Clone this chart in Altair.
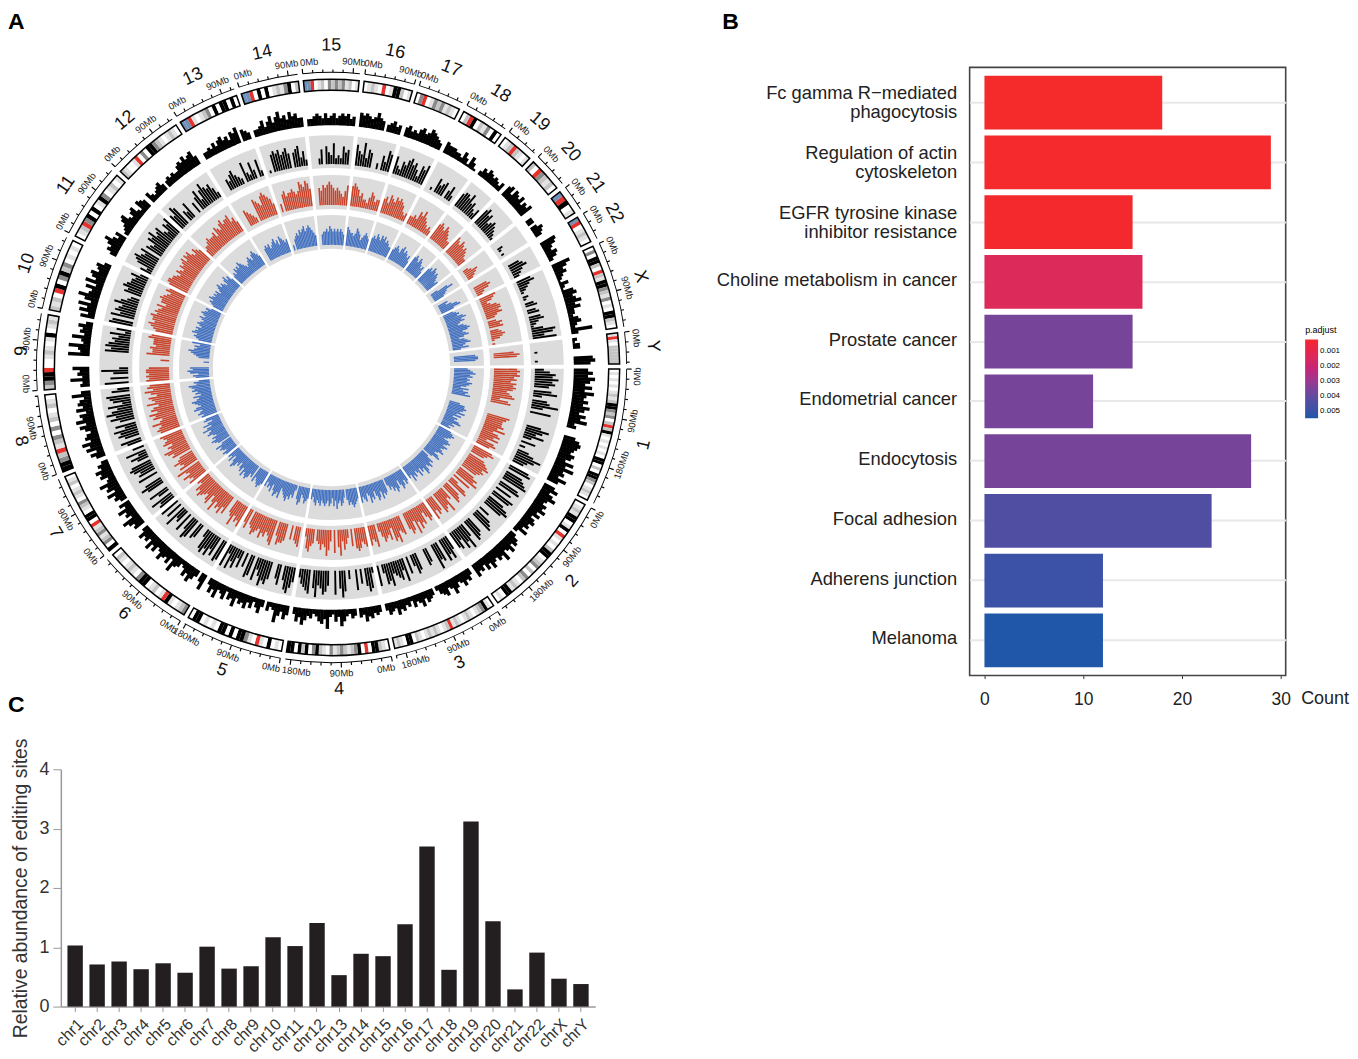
import altair as alt
import pandas as pd

FONT = "Liberation Sans"
chrom_names = ["1","2","3","4","5","6","7","8","9","10","11","12","13","14","15","16","17","18","19","20","21","22","X","Y"]
chrom_len = [249,242,198,190,182,171,159,145,138,134,135,133,114,107,102,90,83,80,59,64,47,51,156,57]

# ideogram bands: one letter per equal cell
band_1 = "wlwlwlwlmlmkkgmgwmrmklwlwlwlwkkwmwkkgmwlmlw"
band_2 = "wlmlkkwlkwrlwlwmkkwlmgwmwgmwlmlkkwlw"
band_3 = "wlkgmlwlmlwlmlrmlwlmlmlwlmwkkwlml"
band_4 = "wlmkkwrwkgmlmgmlgwlmkgwkmkwkk"
band_5 = "wlwkwlrwlgkkwkwkkwlwlwkkw"
band_6 = "gmlwlkrlwmlwkkgwlmlwlmw"
band_7 = "kwgmlgmlrwkkwlmgwlmlwmlw"
band_8 = "kkgmrlmgwgwmlwmlw"
band_9 = "mgkkrwwlmlwlkwlml"
band_10 = "mlmwrkwgkmgwlwlw"
band_11 = "wlmrgkwkwlkgwlmwl"
band_12 = "mlwwlrwgwkkgmlwlmlw"
band_13 = "bbrlwlmgwkwkkwkw"
band_14 = "bbrwkwkwlmlgkwm"
band_15 = "bbrwlmwgmgmglmwl"
band_16 = "wlmlwrwlkkmwl"
band_17 = "wgrwlgmglmlw"
band_18 = "wmrkwmlgwkw"
band_19 = "wlmrmlwl"
band_20 = "mwrgmlmw"
band_21 = "brkwl"
band_22 = "brwlmlw"
band_X = "wgwkkmwrmlkkgmlgwlwkkmlw"
band_Y = "lrlwmmmmmm"
bands = [band_1,band_2,band_3,band_4,band_5,band_6,band_7,band_8,band_9,band_10,band_11,band_12,
         band_13,band_14,band_15,band_16,band_17,band_18,band_19,band_20,band_21,band_22,band_X,band_Y]
band_colors = {"w":"#ffffff","l":"#e2e2e2","m":"#c4c4c4","g":"#8a8a8a","k":"#000000","r":"#e5322d","b":"#6f90b8"}

# outer black track
outer = [
 [6,8,6,9,7,5,8,5,9,6,5,7,5,8,6,4,7,5,8,3,4,0,0,0,5,7,8,7,6,5,7,6,4,8,5,9,5,6,4,8,5],
 [5,7,4,6,8,5,4,6,5,7,4,6,3,5,6,4,5,3,6,2,0,3,5,6,4,7,5,4,8,5,6,4,5,7,4,6,3,5,4,6],
 [3,5,4,6,4,3,5,7,4,3,6,5,4,2,0,3,4,5,3,6,4,3,5,2,4,3,5,4,6,3,4,5,3],
 [3,4,3,5,4,6,3,4,0,3,4,2,3,5,7,3,5,2,3,8,4,6,5,3,2,4,3,5,7,4,6,3],
 [4,6,3,5,8,3,2,4,0,3,6,4,2,5,3,6,4,5,3,7,4,5,2,6,4,3,7,4,6,3],
 [7,4,0,3,5,7,4,6,3,2,4,5,8,3,6,4,5,7,4,3,6,4,7,3,5,4,6,3],
 [5,4,6,8,3,5,4,7,3,5,0,3,5,4,7,3,6,5,8,4,3,6,5,7,4,5,3],
 [4,6,3,7,5,8,4,6,5,3,5,7,4,8,5,6,3,7,4,6,5,3,8,4],
 [4,3,8,3,5,4,7,0,0,0,0,9,4,5,9,3,4,8,3,5,4,6,3],
 [6,3,7,4,8,3,6,9,5,4,7,3,8,4,6,7,4,5,6,3,0,0],
 [3,5,4,6,8,5,3,5,0,2,3,4,6,7,4,3,5,6,3,2,6,5,4],
 [5,3,2,3,4,5,3,0,3,4,3,4,3,3,5,6,5,7,5,6,7,4],
 [0,3,3,4,3,5,3,5,6,4,5,3,6,5,7,0,5,4,3],
 [3,3,4,6,3,5,7,4,6,8,5,6,4,7,5,6,4,4],
 [3,3,4,5,4,3,5,3,4,5,3,4,5,4,5,3,4],
 [6,5,6,5,4,5,7,5,4,0,3,4,5,3,4],
 [4,5,3,4,3,5,6,4,5,7,6,5,4,3],
 [5,4,4,4,3,3,2,5,3,1,5,3,1],
 [2,4,3,5,4,3,4,3,2,4],
 [5,6,3,6,5,4,6,3,5,4,6],
 [0,3,3,0,3,5,4,3],
 [0,7,6,4,3,5,4,2],
 [8,6,4,5,3,2,1,4,2,1,5,6,4,5,7,4,6,3,3,2,4,5,3,2,9,3],
 [2,1,3,3,0,0,0,8,9,7],
]
# second track (black on grey)
second = [
 [3,5,7,6,8,6,7,5,0,6,8,3,0,5,6,9,4,0,7,0,0,0,0,0,5,8,6,4,7,3,0,5,0,2,0,4,6,9,7,5,4],
 [7,8,0,6,7,8,9,0,7,8,0,6,0,8,7,0,6,8,9,7,0,0,4,0,6,7,8,0,0,6,7,8,0,5,9,6,8,4,7,6],
 [5,8,6,8,0,7,6,9,0,0,5,6,0,0,0,6,7,4,0,6,0,8,4,7,6,5,4,8,6,7,3,0,7],
 [2,7,8,6,0,5,0,7,0,0,3,0,7,9,6,0,8,0,0,5,7,8,6,5,9,6,0,8,7,6,5,3],
 [5,7,9,8,5,0,7,5,0,0,6,8,7,9,6,4,8,0,7,8,0,5,0,6,3,7,5,8,3,8],
 [7,8,0,7,5,8,6,8,7,3,0,0,5,6,0,7,8,5,0,7,0,5,4,8,0,6,0,7],
 [6,5,8,0,4,7,0,0,6,8,6,0,0,7,0,6,5,7,8,7,0,4,6,3,7,0,4],
 [5,7,0,5,7,6,8,4,7,0,5,8,6,9,7,5,8,3,6,7,8,0,6,4],
 [8,0,6,0,5,9,3,0,0,0,0,0,0,8,6,8,7,5,6,4,7,2,5],
 [8,7,0,8,5,7,6,5,8,6,4,3,0,6,5,7,6,5,5,4,6,3],
 [4,2,6,7,8,6,5,7,0,6,5,4,7,6,8,5,6,7,4,3,6,5,7],
 [6,5,8,7,0,4,3,6,0,0,4,0,5,7,3,6,8,6,5,6,4,2],
 [0,0,0,4,3,5,6,4,3,2,0,7,3,2,6,3,0,6,2],
 [0,1,0,6,7,6,7,5,6,7,5,0,5,6,7,3,5,2],
 [0,0,0,2,5,0,6,4,3,7,2,3,2,6,4,5,0],
 [7,5,4,8,3,6,5,0,0,2,0,5,3,7,6],
 [6,3,2,5,4,6,7,5,6,4,2,6,5,7],
 [0,0,1,0,5,3,4,5,0,3,5,2,0],
 [5,6,6,5,7,4,5,3,2,4],
 [6,7,5,6,3,4,5,4,3,2,1],
 [0,0,0,2,1,0,1,0],
 [0,0,4,5,6,4,3,2],
 [5,6,4,3,2,1,0,2,1,0,3,4,0,3,4,0,4,5,3,2,1,4,8,7,4,8],
 [0,0,0,0,1,0,0,0,1,0],
]
# third track (red on grey)
third = [
 [8,9,8,9,7,8,6,8,7,8,7,5,6,7,8,3,6,7,0,0,0,0,0,0,8,7,6,6,6,7,5,8,4,6,7,5,7,3,6,7,5],
 [7,8,6,5,0,6,7,8,9,7,8,7,6,0,6,8,7,9,0,7,0,3,7,8,0,6,7,8,0,5,4,9,6,7,8,0,6,7,5,8],
 [6,7,5,3,7,6,8,5,9,4,7,8,6,0,0,7,6,5,9,7,8,3,7,5,6,7,5,3,0,8,6,5,7],
 [7,6,5,7,8,7,0,6,0,3,5,7,4,9,6,0,8,0,4,7,9,6,5,7,5,4,0,5,6,8,7,3],
 [0,7,6,5,0,5,0,0,6,7,7,8,5,0,9,8,6,5,7,6,8,5,6,7,8,6,5,0,7,5],
 [8,6,7,5,9,6,5,0,0,7,5,8,6,7,5,9,6,4,8,7,5,6,7,8,6,7,4,5],
 [7,5,6,8,5,6,9,0,7,5,6,8,6,5,0,7,6,8,9,6,7,5,8,7,6,7,8],
 [7,8,7,6,9,6,5,8,7,9,6,8,7,5,9,6,7,8,5,7,9,6,8,7],
 [8,7,8,7,8,8,7,0,0,0,3,0,0,8,6,6,7,5,6,6,6,8,7],
 [6,7,8,9,7,8,8,9,7,8,7,6,8,5,7,7,8,7,6,5,7,6],
 [7,8,8,7,7,6,5,7,6,5,7,6,7,8,6,8,7,8,6,5,7,6,5],
 [3,4,4,5,6,5,5,5,6,4,7,6,5,7,8,6,7,7,8,5,6,4],
 [0,0,0,6,5,4,3,2,0,8,7,6,5,8,9,8,7,6,4],
 [0,3,0,6,7,5,6,6,7,6,5,6,9,8,7,9,8,6],
 [0,0,6,5,7,6,7,8,7,6,5,6,5,4,3,5,7],
 [7,8,7,6,4,5,3,3,2,4,6,5,3,4,4],
 [5,6,4,7,6,5,7,6,7,6,5,3,2,3],
 [3,3,4,3,6,5,7,5,4,3,2,3,2],
 [6,7,6,5,7,6,5,4,3,3],
 [7,6,5,7,6,5,6,5,4,3,3],
 [0,0,2,3,5,4,3,2],
 [0,0,0,5,6,5,3,2],
 [6,5,4,2,3,5,6,6,5,6,4,3,0,3,5,4,5,0,3,4,5,4,3,1,0,1],
 [0,0,0,7,9,8,0,0,0,0],
]
# inner track (blue on grey)
inner = [
 [5,6,7,8,6,7,5,6,5,7,6,5,3,6,4,6,5,7,0,0,0,0,0,4,6,6,7,6,5,7,4,6,3,5,4,6,7,4,5,3,4],
 [5,6,7,6,5,4,6,7,6,5,7,6,5,6,7,5,4,6,7,4,0,3,6,5,7,6,5,7,8,5,6,4,7,5,4,6,5,7,4,5],
 [5,6,4,6,7,5,3,6,7,5,6,4,5,3,0,5,6,5,7,4,6,7,5,3,6,5,7,4,3,6,5,4,6],
 [4,5,6,7,6,5,6,4,0,3,5,6,4,5,7,4,6,3,5,6,4,5,6,5,4,6,5,4,6,5,3,4],
 [4,5,6,4,3,6,7,5,0,2,5,4,6,5,7,6,5,4,3,7,5,6,7,5,3,6,4,5,3,5],
 [5,6,7,6,5,4,6,0,5,4,6,7,6,5,7,4,6,5,3,5,4,6,7,5,3,6,4,5],
 [5,6,4,5,6,5,7,4,0,5,6,7,5,6,4,5,7,6,5,8,6,4,7,5,3,6,5],
 [6,5,7,6,5,8,7,5,6,7,8,6,5,7,4,6,5,7,6,7,8,5,6,4],
 [5,6,4,7,8,6,7,0,0,0,2,0,0,4,5,6,7,8,6,5,6,4,7],
 [5,6,7,6,8,7,6,7,5,6,7,6,5,6,7,5,6,7,6,5,6,4],
 [4,5,6,5,7,6,5,6,5,6,4,5,6,7,5,6,5,4,6,7,5,6,4],
 [4,5,4,6,5,6,5,7,6,5,4,3,4,5,6,5,4,6,7,6,5,4],
 [0,0,0,5,6,5,6,4,5,6,7,5,6,4,7,6,5,4,5],
 [0,2,0,4,5,6,5,7,6,7,8,6,7,8,7,6,5,4],
 [0,0,4,5,5,6,5,7,6,5,6,5,6,5,6,5,4],
 [7,6,5,5,4,5,7,6,5,3,4,5,6,5,4],
 [5,6,5,7,6,5,7,6,7,5,6,5,4,4],
 [4,5,6,5,4,6,7,5,6,5,4,5,3],
 [6,7,6,5,7,6,5,4,5,3],
 [6,7,6,8,7,6,7,6,5,4,5],
 [0,0,3,7,9,6,5,4],
 [0,0,4,3,5,7,8,5],
 [4,5,6,5,7,8,6,7,5,4,6,7,8,7,5,6,7,5,3,5,6,7,5,4,6,3],
 [0,0,0,8,9,9,8,0,0,0],
]

# panel B
pathways = ["Fc gamma R\u2212mediated|phagocytosis","Regulation of actin|cytoskeleton","EGFR tyrosine kinase|inhibitor resistance",
            "Choline metabolism in cancer","Prostate cancer","Endometrial cancer","Endocytosis","Focal adhesion","Adherens junction","Melanoma"]
counts = [18,29,15,16,15,11,27,23,12,12]
padjust = [0.00028,0.00030,0.00032,0.0014,0.0036,0.0036,0.0036,0.0044,0.0049,0.00545]

# panel C
chr_labels = ["chr1","chr2","chr3","chr4","chr5","chr6","chr7","chr8","chr9","chr10","chr11","chr12","chr13","chr14","chr15","chr16","chr17","chr18","chr19","chr20","chr21","chr22","chrX","chrY"]
abundance = [1.03,0.71,0.76,0.63,0.73,0.57,1.01,0.64,0.68,1.17,1.02,1.41,0.53,0.89,0.85,1.39,2.70,0.62,3.12,1.44,0.29,0.91,0.47,0.38]

# ---- polar geometry of the circular panel
GAP = 1.0
DEG = (360 - GAP * len(chrom_len)) / sum(chrom_len)
starts = []
cursor = 90.3
for L in chrom_len:
    starts.append(cursor)
    cursor += L * DEG + GAP

T = alt.Scale(domain=[0, 360], range=[0, 6.283185])
R = alt.Scale(type="linear", domain=[0, 340], range=[0, 340])

def arcs(rows, **mark):
    enc = dict(theta=alt.Theta("t0:Q", scale=T, stack=False), theta2=alt.Theta2("t1:Q"),
               radius=alt.Radius("r1:Q", scale=R, stack=False), radius2=alt.Radius2("r0:Q"))
    if "c" in rows[0]:
        enc["color"] = alt.Color("c:N", scale=None)
    return alt.Chart(pd.DataFrame(rows)).mark_arc(**mark).encode(**enc)

def labels(rows, size, color="#111111"):
    return alt.Chart(pd.DataFrame(rows)).mark_text(font=FONT, fontSize=size, color=color, baseline="middle", align="center").encode(
        theta=alt.Theta("t:Q", scale=T, stack=False), radius=alt.Radius("r:Q", scale=R, stack=False),
        text="s:N", angle=alt.Angle("a:Q", scale=None))

def facing(t):
    t = t % 360
    return t if t <= 90 else (t if t >= 270 else t - 180) % 360

sector_a, sector_b, sector_c, ideo_frames, axis_lines, ticks, tick_text, name_text, ideo = [], [], [], [], [], [], [], [], []
for i, L in enumerate(chrom_len):
    s = starts[i]; e = s + L * DEG
    for store, (a, b) in ((sector_a, (200, 233)), (sector_b, (159, 193)), (sector_c, (119, 153))):
        store.append(dict(t0=s, t1=e, r0=a, r1=b))
    ideo_frames.append(dict(t0=s, t1=e, r0=278, r1=289))
    axis_lines.append(dict(t0=s, t1=e, r0=295.6, r1=296.5))
    n = len(bands[i])
    for k, code in enumerate(bands[i]):
        ideo.append(dict(t0=s + (e - s) * k / n, t1=s + (e - s) * (k + 1) / n, r0=278, r1=289, c=band_colors[code]))
    mb = 0
    while mb <= L:
        t = s + mb * DEG
        major = mb % 90 == 0
        ticks.append(dict(t0=t - 0.11, t1=t + 0.11, r0=296, r1=301 if major else 299))
        if major:
            shift = 1.4 if mb == 0 else (-1.3 if (mb == 180 or L - mb < 3) else 0)
            tick_text.append(dict(t=t + shift, r=307, s=f"{mb}Mb", a=facing(t + shift)))
        mb += 18
    mid = (s + e) / 2
    rad = {"9": 311, "8": 320}.get(chrom_names[i], 323)
    name_text.append(dict(t=mid, r=rad, s=chrom_names[i], a=facing(mid)))

def track(values, base, unit, fill):
    rows = []
    for i, lst in enumerate(values):
        s = starts[i]; w = chrom_len[i] * DEG / len(lst)
        for k, v in enumerate(lst):
            if v:
                c = s + (k + 0.5) * w
                rows.append(dict(t0=c - w * fill / 2, t1=c + w * fill / 2, r0=base, r1=base + v * unit))
    return rows

grey = "#dcdcdd"
letters = pd.DataFrame({"s": ["A", "C"], "px": [-53, -53], "py": [-46, 640]})
circos = alt.layer(
    arcs(sector_a, color=grey), arcs(sector_b, color=grey), arcs(sector_c, color=grey),
    arcs(track(outer, 243, 2.4, 1.15), color="#000000"),
    arcs(track(second, 204, 3.0, 0.78), color="#000000"),
    arcs(track(third, 163, 2.9, 0.8), color="#c8432a"),
    arcs(track(inner, 123, 2.7, 0.95), color="#4472c0"),
    arcs(ideo),
    arcs(ideo_frames, fillOpacity=0, stroke="#000000", strokeWidth=1.5),
    arcs(axis_lines, color="#000000"), arcs(ticks, color="#000000"),
    labels(tick_text, 9.5, "#222222"), labels(name_text, 18),
    alt.Chart(letters).mark_text(
        font=FONT, fontSize=23, fontWeight="bold", align="left", baseline="middle", color="#000000").encode(
        text="s:N", x=alt.X("px:Q", scale=None), y=alt.Y("py:Q", scale=None)),
).properties(width=543, height=602)

df_b = pd.DataFrame({"p": pathways, "n": counts, "q": padjust})
bars_b = alt.Chart(df_b).mark_bar().encode(
    y=alt.Y("p:N", sort=pathways, scale=alt.Scale(paddingInner=0.1, paddingOuter=0.14),
            axis=alt.Axis(title=None, ticks=False, domain=False, grid=True, gridColor="#e8e8e8", gridWidth=2,
                          labelFont=FONT, labelFontSize=18.4, labelColor="#222222", labelPadding=13, labelLimit=400,
                          labelExpr="split(datum.label, '|')", labelLineHeight=19,
                          labelOffset={"condition": {"test": "indexof(datum.value, '|') >= 0", "value": -9.5}, "value": -2})),
    x=alt.X("n:Q", scale=alt.Scale(domain=[-1.5, 30.5], nice=False, zero=False),
            axis=alt.Axis(values=[0, 10, 20, 30], grid=False, domain=False, tickColor="#333333", tickSize=3,
                          labelFont=FONT, labelFontSize=17.5, labelColor="#222222", labelPadding=12,
                          title="Count", titleFont=FONT, titleFontSize=18, titleFontWeight="normal", titleColor="#222222",
                          titleX=332, titleY=14, titleAlign="left")),
    color=alt.Color("q:Q", scale=alt.Scale(domain=[0.00546, 0.0045, 0.0036, 0.0026, 0.0014, 0.00028],
                                           range=["#1f57a8", "#4a4fa3", "#76459a", "#b32c85", "#dc2a5a", "#f42a2b"]),
                    legend=alt.Legend(title="p.adjust", values=[0.001, 0.002, 0.003, 0.004, 0.005], format=".3f",
                                      orient="none", legendX=1248, legendY=259, gradientLength=79, gradientThickness=13,
                                      titleFont=FONT, labelFont=FONT, titleFontSize=9, labelFontSize=8, titleFontWeight="normal")),
)
letter_b = alt.Chart(pd.DataFrame({"s": ["B"], "px": [-248], "py": [-46]})).mark_text(
    font=FONT, fontSize=23, fontWeight="bold", align="left", baseline="middle", color="#000000").encode(
    text="s:N", x=alt.X("px:Q", scale=None), y=alt.Y("py:Q", scale=None))
panel_b = alt.layer(bars_b, letter_b).resolve_scale(x="independent", y="independent").properties(
    width=317, height=610, view=alt.ViewConfig(stroke="#444444", strokeWidth=1.6))

df_c = pd.DataFrame({"c": chr_labels, "v": abundance})
panel_c = alt.Chart(df_c).mark_bar(color="#231f20").encode(
    x=alt.X("c:N", sort=chr_labels, scale=alt.Scale(paddingInner=0.3, paddingOuter=0.3),
            axis=alt.Axis(title=None, labelAngle=-45, labelFont=FONT, labelFontSize=16, labelColor="#333333",
                          domainColor="#999999", domainWidth=1.5, tickColor="#999999", tickSize=5, labelPadding=4)),
    y=alt.Y("v:Q", scale=alt.Scale(domain=[0, 4], nice=False),
            axis=alt.Axis(values=[0, 1, 2, 3, 4], grid=False, domainColor="#999999", domainWidth=1.5, tickColor="#999999", tickSize=8,
                          labelFont=FONT, labelFontSize=18, labelColor="#333333", labelPadding=4,
                          title="Relative abundance of editing sites", titleFont=FONT, titleFontSize=19.4,
                          titleFontWeight="normal", titleColor="#333333", titlePadding=8)),
).properties(width=536, height=238)

chart = (alt.vconcat(alt.hconcat(circos, panel_b, spacing=51.5), panel_c, spacing=20)
         .properties(padding=0)
         .configure_view(stroke=None))
chart.save("out.html", embed_options={"renderer": "svg", "actions": False})
